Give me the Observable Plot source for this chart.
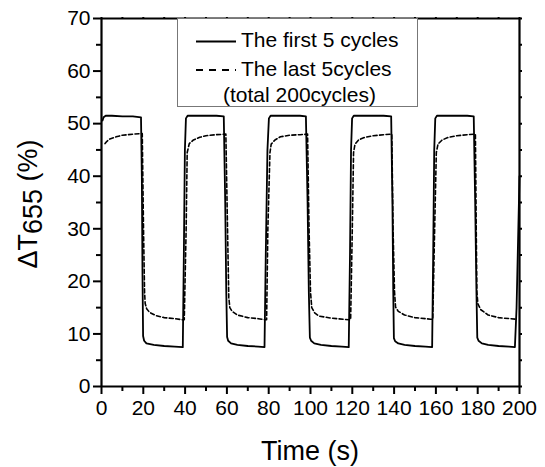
<!DOCTYPE html>
<html>
<head>
<meta charset="utf-8">
<script src="https://cdn.jsdelivr.net/npm/d3@7"></script>
<script src="https://cdn.jsdelivr.net/npm/@observablehq/plot@0.6"></script>
<style>
  html, body { margin: 0; padding: 0; background: #fff; }
  #wrap { position: relative; width: 545px; height: 467px; font-family: "Liberation Sans", Arial, sans-serif; }
  #legend { position: absolute; left: 177px; top: 18px; width: 241px; height: 89px; border: 1px solid #777; background: #fff; box-sizing: border-box; }
</style>
</head>
<body>
<div id="wrap"><div id="legend"></div></div>
<script>
// Time axis ticks and value ticks
const xMajor = [0, 20, 40, 60, 80, 100, 120, 140, 160, 180, 200];
const xMinor = [10, 30, 50, 70, 90, 110, 130, 150, 170, 190];
const yMajor = [0, 10, 20, 30, 40, 50, 60, 70];
const yMinor = [5, 15, 25, 35, 45, 55, 65];

// "The first 5 cycles" (solid)
const firstT = [0.5, 1.0, 2, 5, 10, 15, 18.9, 19.3, 19.6, 19.9, 20.4, 21.5, 25, 30, 35, 38.9,
  39.4, 39.9, 40.4, 41.2, 45, 50, 55, 58.5, 59.2, 59.7, 60.1, 60.6, 62, 65, 70, 75, 78.0,
  78.6, 79.4, 80.1, 80.9, 85, 90, 95, 97.8, 98.6, 99.2, 99.7, 100.3, 101.8, 105, 110, 115, 118.3,
  118.9, 119.4, 119.9, 120.7, 125, 130, 135, 138.6, 139.2, 139.6, 139.9, 140.5, 142, 145, 150, 155, 158.2,
  158.7, 159.2, 159.7, 160.5, 165, 170, 175, 178.1, 178.8, 179.4, 179.8, 180.4, 182, 185, 190, 195, 197.8,
  198.6, 200];
const firstV = [50.6, 51.2, 51.5, 51.5, 51.4, 51.4, 51.2, 40, 22, 9.6, 8.7, 8.2, 7.9, 7.7, 7.6, 7.5,
  25, 45, 51.0, 51.5, 51.5, 51.5, 51.5, 51.4, 35, 18, 9.4, 8.7, 8.2, 7.9, 7.7, 7.6, 7.5,
  25, 45, 51.0, 51.5, 51.5, 51.5, 51.5, 51.4, 35, 18, 9.3, 8.7, 8.2, 7.9, 7.7, 7.6, 7.5,
  25, 45, 51.0, 51.5, 51.5, 51.5, 51.5, 51.4, 35, 18, 9.2, 8.6, 8.2, 7.9, 7.7, 7.6, 7.5,
  25, 45, 51.0, 51.5, 51.5, 51.5, 51.5, 51.4, 35, 18, 9.3, 8.7, 8.2, 7.9, 7.7, 7.6, 7.5,
  15, 40];

// "The last 5cycles (total 200cycles)" (dashed)
const lastT = [1.7, 2.5, 4, 7, 10, 15, 19.5, 20.1, 20.6, 20.9, 21.6, 23, 26, 30, 35, 38.6,
  39.6, 40.5, 41.0, 42, 44, 47, 50, 55, 59.5, 60.3, 60.9, 61.4, 62.5, 65, 70, 75, 78.5,
  79.0, 79.6, 80.6, 81.2, 83, 85.6, 90, 95, 98.6, 99.3, 100.0, 100.6, 102, 104, 110, 118.3,
  119.2, 120.0, 120.6, 121.3, 123, 126, 130, 135, 138.9, 139.5, 140.2, 140.7, 142, 145, 150, 157.4,
  158.5, 159.4, 160.2, 161, 163, 166, 170, 175, 178.9, 179.3, 179.6, 180.1, 181.5, 185, 190, 198.2];
const lastV = [46.2, 46.6, 47.1, 47.5, 47.8, 48.0, 48.1, 30, 18, 15.8, 14.8, 14.1, 13.5, 13.1, 12.9, 12.7,
  12.7, 30, 44.5, 46.2, 46.9, 47.4, 47.7, 47.9, 48.0, 30, 17, 15.0, 14.3, 13.6, 13.1, 12.9, 12.7,
  12.7, 30, 44.5, 46.1, 46.9, 47.5, 47.8, 47.9, 48.0, 30, 18, 15.0, 14.0, 13.4, 13.0, 12.7,
  12.7, 30, 44.5, 46.1, 46.9, 47.4, 47.7, 47.9, 48.0, 30, 18, 15.1, 14.3, 13.6, 13.1, 12.8,
  12.8, 30, 44.5, 46.1, 46.9, 47.4, 47.7, 47.9, 48.0, 30, 18, 15.7, 14.6, 13.6, 13.1, 12.8];

const first = firstT.map((t, i) => ({t, v: firstV[i]}));
const last = lastT.map((t, i) => ({t, v: lastV[i]}));

const font = "Liberation Sans, Arial, sans-serif";

const chart = Plot.plot({
  width: 545,
  height: 467,
  marginLeft: 101,
  marginRight: 26,
  marginTop: 18,
  marginBottom: 81,
  style: {fontFamily: font, fontSize: "21px", color: "#000", background: "transparent"},
  x: {domain: [0, 200]},
  y: {domain: [0, 70]},
  marks: [
    Plot.line(last, {x: "t", y: "v", stroke: "#000", strokeWidth: 1.6, strokeDasharray: "4,2.5"}),
    Plot.line(first, {x: "t", y: "v", stroke: "#000", strokeWidth: 1.8}),
    Plot.axisX({ticks: xMajor, tickSize: 8, tickPadding: 6, fontSize: 21, label: null, tickFormat: d => String(d), strokeWidth: 2}),
    Plot.axisX({ticks: xMinor, tickSize: 5, text: null, label: null, strokeWidth: 2}),
    Plot.axisX({anchor: "top", ticks: xMajor.concat(xMinor), tickSize: 2, text: null, label: null, strokeWidth: 2}),
    Plot.axisY({ticks: yMajor, tickSize: 8, tickPadding: 3, fontSize: 21, label: null, tickFormat: d => String(d), strokeWidth: 2}),
    Plot.axisY({ticks: yMinor, tickSize: 5, text: null, label: null, strokeWidth: 2}),
    Plot.axisY({anchor: "right", ticks: yMajor.concat(yMinor), tickSize: 2, text: null, label: null, strokeWidth: 2}),
    Plot.ruleX([0, 200], {stroke: "#000", strokeWidth: 2.2}),
    Plot.ruleY([0, 70], {stroke: "#000", strokeWidth: 2.2})
  ]
});

const svg = d3.select(chart);
// enforce tick label font size
svg.selectAll('g[aria-label$="tick label"]').attr("font-size", 21).style("font-size", "21px");
svg.selectAll('g[aria-label$="tick label"] text').attr("font-size", 21).style("font-size", "21px");

svg.append("text")
  .attr("x", 310).attr("y", 460)
  .attr("text-anchor", "middle")
  .attr("font-size", 27).attr("font-family", font).attr("fill", "#000")
  .text("Time (s)");

const yt = svg.append("text")
  .attr("transform", "translate(37,204) rotate(-90)")
  .attr("text-anchor", "middle")
  .attr("font-size", 27).attr("font-family", font).attr("fill", "#000");
yt.append("tspan").text("\u0394T");
yt.append("tspan").attr("dy", 5).text("655");
yt.append("tspan").attr("dy", -5).text(" (%)");

const wrap = document.getElementById("wrap");
wrap.insertBefore(chart, wrap.firstChild);

// legend
const leg = d3.select("#legend").append("svg")
  .attr("width", 239).attr("height", 87)
  .style("position", "absolute").style("left", "0").style("top", "0").style("overflow", "visible");
leg.append("line").attr("x1", 18).attr("x2", 58).attr("y1", 22.5).attr("y2", 22.5)
  .attr("stroke", "#000").attr("stroke-width", 1.8);
leg.append("line").attr("x1", 18).attr("x2", 58).attr("y1", 51).attr("y2", 51)
  .attr("stroke", "#000").attr("stroke-width", 1.8).attr("stroke-dasharray", "7,6");
const lt = (x, y, s) => leg.append("text").attr("x", x).attr("y", y)
  .attr("font-size", 21).attr("font-family", font).attr("fill", "#000").text(s);
lt(63, 27.5, "The first 5 cycles");
lt(63, 56.5, "The last 5cycles");
lt(45, 83, "(total 200cycles)");
</script>
</body>
</html>
